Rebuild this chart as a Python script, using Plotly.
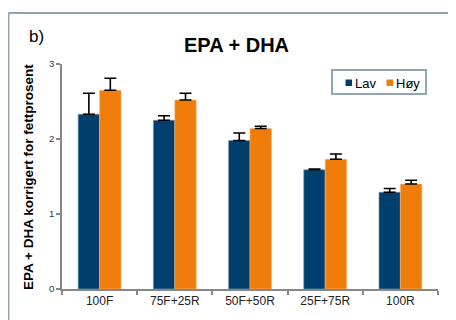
import plotly.graph_objects as go

categories = ["100F", "75F+25R", "50F+50R", "25F+75R", "100R"]
lav_values = [2.33, 2.25, 1.98, 1.59, 1.29]
lav_err = [0.28, 0.06, 0.10, 0.01, 0.05]
hoy_values = [2.65, 2.52, 2.14, 1.73, 1.40]
hoy_err = [0.16, 0.09, 0.03, 0.07, 0.05]
series_names = ["Lav", "Høy"]
y_ticks = [0, 1, 2, 3]

NAVY = "#003F6E"
ORANGE = "#F07D0A"
FONT = "Liberation Sans, Arial, sans-serif"

OFF = 8  # page body margin offset
W, H = 456 - OFF, 320 - OFF
L, R, T, B = 62 - OFF, 18, 64 - OFF, 31
PW, PH = W - L - R, H - T - B


def px(x):
    return (x - OFF - L) / PW


def py(y):
    return (H - B - (y - OFF)) / PH


fig = go.Figure()
fig.add_trace(go.Bar(
    x=categories, y=lav_values, name=series_names[0],
    marker=dict(color=NAVY, line=dict(color="#7C9CB6", width=0.6)),
    error_y=dict(type="data", array=lav_err, arrayminus=[0] * len(lav_err),
                 symmetric=False, color="black", thickness=1.6, width=6),
))
fig.add_trace(go.Bar(
    x=categories, y=hoy_values, name=series_names[1],
    marker=dict(color=ORANGE, line=dict(color="#F6B57A", width=0.6)),
    error_y=dict(type="data", array=hoy_err, arrayminus=[0] * len(hoy_err),
                 symmetric=False, color="black", thickness=1.6, width=6),
))

fig.update_layout(
    width=W, height=H,
    margin=dict(l=L, r=R, t=T, b=B),
    paper_bgcolor="white", plot_bgcolor="white",
    barmode="group", bargap=0.43, bargroupgap=0,
    showlegend=False,
    font=dict(family=FONT, color="#222"),
    xaxis=dict(
        showline=True, linecolor="#878787", linewidth=1.5,
        ticks="outside", tickson="boundaries", ticklen=4, tickcolor="#878787", tickwidth=1.5,
        tickfont=dict(size=12, color="#222", family=FONT),
        showgrid=False, zeroline=False, automargin=False,
    ),
    yaxis=dict(
        range=[0, 3], tickvals=y_ticks,
        showline=True, linecolor="#878787", linewidth=1.5,
        ticks="outside", ticklen=4, tickcolor="#878787", tickwidth=1.5,
        tickfont=dict(size=9.5, color="#333", family=FONT),
        showgrid=False, zeroline=False, automargin=False,
    ),
)

shapes = [
    # outer frame (top and left)
    dict(type="line", xref="paper", yref="paper", x0=px(8.5), x1=px(470), y0=py(13), y1=py(13),
         line=dict(color="#8FA6B5", width=2)),
    dict(type="line", xref="paper", yref="paper", x0=px(8.5), x1=px(8.5), y0=py(13), y1=py(340),
         line=dict(color="#8FA6B5", width=2)),
    # legend box
    dict(type="rect", xref="paper", yref="paper", x0=px(332), x1=px(426), y0=py(70), y1=py(94),
         line=dict(color="#8FA6B5", width=2), fillcolor="white"),
    dict(type="rect", xref="paper", yref="paper", x0=px(345.5), x1=px(352), y0=py(79.5), y1=py(86),
         line=dict(width=0), fillcolor=NAVY),
    dict(type="rect", xref="paper", yref="paper", x0=px(386.5), x1=px(393), y0=py(79.5), y1=py(86),
         line=dict(width=0), fillcolor=ORANGE),
]
fig.update_layout(shapes=shapes)

annotations = [
    dict(text="<b>EPA + DHA</b>", x=px(236), y=py(45), xref="paper", yref="paper",
         showarrow=False, font=dict(size=20, color="black", family=FONT), xanchor="center", yanchor="middle"),
    dict(text="b)", x=px(27), y=py(36), xref="paper", yref="paper",
         showarrow=False, font=dict(size=17, color="black", family=FONT), xanchor="left", yanchor="middle"),
    dict(text="<b>EPA + DHA korrigert for fettprosent</b>", x=px(28), y=py(177), xref="paper", yref="paper",
         showarrow=False, textangle=-90, font=dict(size=13.5, color="black", family=FONT),
         xanchor="center", yanchor="middle"),
    dict(text=series_names[0], x=px(352.5), y=py(83.5), xref="paper", yref="paper",
         showarrow=False, font=dict(size=13, color="black", family=FONT), xanchor="left", yanchor="middle"),
    dict(text=series_names[1], x=px(393.5), y=py(83.5), xref="paper", yref="paper",
         showarrow=False, font=dict(size=13, color="black", family=FONT), xanchor="left", yanchor="middle"),
]
fig.update_layout(annotations=annotations)

fig.write_html("out.html")
